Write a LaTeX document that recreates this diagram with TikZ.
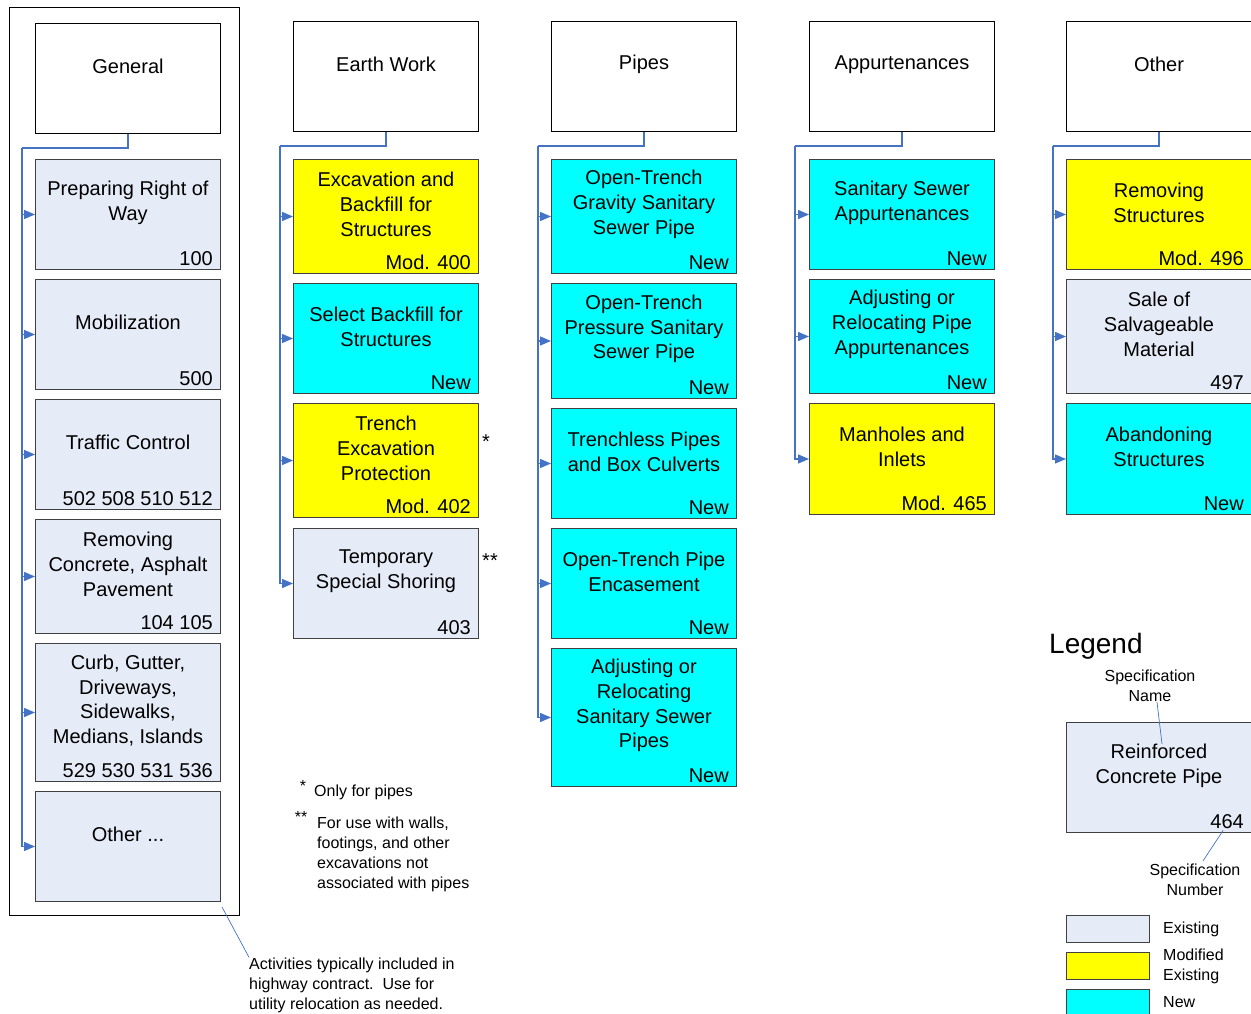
\documentclass[tikz,border=0pt]{standalone}
\usepackage{fontspec}
\setmainfont{Liberation Sans}
\usetikzlibrary{arrows.meta}
\definecolor{existfill}{RGB}{230,236,247}
\definecolor{modfill}{RGB}{255,255,0}
\definecolor{newfill}{RGB}{0,255,255}
\definecolor{linkblue}{RGB}{68,114,196}
\definecolor{boxedge}{RGB}{64,64,64}

\begin{document}
\begin{tikzpicture}[x=1pt,y=-1pt,
  spec/.style={draw=boxedge,line width=1pt,anchor=north west,minimum width=185pt,inner sep=0pt},
  head/.style={spec,draw=black,fill=white,minimum height=110pt},
  exist/.style={spec,fill=existfill},
  modif/.style={spec,fill=modfill},
  newsp/.style={spec,fill=newfill},
  spectext/.style={align=center,font=\fontsize{20}{24.8}\selectfont,inner sep=0pt},
  num/.style={anchor=base east,font=\fontsize{20}{24}\selectfont,inner sep=0pt},
  note/.style={align=left,font=\fontsize{16}{20}\selectfont,inner sep=0pt},
  link/.style={draw=linkblue,line width=1.4pt},
  feed/.style={link,-{Triangle[length=11pt,width=9pt]}},
  lead/.style={draw=linkblue,line width=0.7pt}]
\useasboundingbox (0,0) rectangle (1251,1014);

% general (frame round the highway items)
\draw[line width=1pt] (9.5,7.5) rectangle (239.5,915.5);
\node[head] (hgen) at (35,23) {};
\node[spectext] (hgen-t) at ([yshift=12pt]hgen.center) {General};
\node[exist,minimum height=110pt] (prw) at (35,159) {};
\node[spectext] (prw-t) at ([yshift=12pt]prw.center) {Preparing Right of\\Way};
\node[num] (prw-n) at ([xshift=-8pt,yshift=5pt]prw.south east) {100};
\node[exist,minimum height=110pt] (mob) at (35,279) {};
\node[spectext] (mob-t) at ([yshift=12pt]mob.center) {Mobilization};
\node[num] (mob-n) at ([xshift=-8pt,yshift=5pt]mob.south east) {500};
\node[exist,minimum height=110pt] (trc) at (35,399) {};
\node[spectext] (trc-t) at ([yshift=12pt]trc.center) {Traffic Control};
\node[num] (trc-n) at ([xshift=-8pt,yshift=5pt]trc.south east) {502 508 510 512};
\node[exist,minimum height=114pt] (rcp) at (35,519) {};
\node[spectext] (rcp-t) at ([yshift=12pt]rcp.center) {Removing\\Concrete, Asphalt\\Pavement};
\node[num] (rcp-n) at ([xshift=-8pt,yshift=5pt]rcp.south east) {104 105};
\node[exist,minimum height=138pt] (cgd) at (35,643) {};
\node[spectext] (cgd-t) at ([yshift=12pt]cgd.center) {Curb, Gutter,\\Driveways,\\Sidewalks,\\Medians, Islands};
\node[num] (cgd-n) at ([xshift=-8pt,yshift=5pt]cgd.south east) {529 530 531 536};
\node[exist,minimum height=110pt] (goth) at (35,791) {};
\node[spectext] (goth-t) at ([yshift=12pt]goth.center) {Other ...};
\coordinate (tgen) at (22,148);
\draw[link] (hgen.south) |- (tgen);
\draw[feed] (tgen) |- (prw.west);
\draw[feed] (tgen) |- (mob.west);
\draw[feed] (tgen) |- (trc.west);
\draw[feed] (tgen) |- (rcp.west);
\draw[feed] (tgen) |- (cgd.west);
\draw[feed] (tgen) |- (goth.west);

% earth work
\node[head] (hear) at (293,21) {};
\node[spectext] (hear-t) at ([yshift=12pt]hear.center) {Earth Work};
\node[modif,minimum height=114pt] (exb) at (293,159) {};
\node[spectext] (exb-t) at ([yshift=12pt]exb.center) {Excavation and\\Backfill for\\Structures};
\node[num] (exb-n) at ([xshift=-8pt,yshift=5pt]exb.south east) {Mod. 400};
\node[newsp,minimum height=110pt] (sbf) at (293,283) {};
\node[spectext] (sbf-t) at ([yshift=12pt]sbf.center) {Select Backfill for\\Structures};
\node[num] (sbf-n) at ([xshift=-8pt,yshift=5pt]sbf.south east) {New};
\node[modif,minimum height=114pt] (tep) at (293,403) {};
\node[spectext] (tep-t) at ([yshift=12pt]tep.center) {Trench\\Excavation\\Protection};
\node[num] (tep-n) at ([xshift=-8pt,yshift=5pt]tep.south east) {Mod. 402};
\node[exist,minimum height=110pt] (tss) at (293,528) {};
\node[spectext] (tss-t) at ([yshift=12pt]tss.center) {Temporary\\Special Shoring};
\node[num] (tss-n) at ([xshift=-8pt,yshift=5pt]tss.south east) {403};
\node[font=\fontsize{20}{24}\selectfont,inner sep=0pt] (tep-s) at (486,442) {*};
\node[font=\fontsize{20}{24}\selectfont,inner sep=0pt] (tss-s) at (490,561) {**};
\coordinate (tear) at (280,146);
\draw[link] (hear.south) |- (tear);
\draw[feed] (tear) |- (exb.west);
\draw[feed] (tear) |- (sbf.west);
\draw[feed] (tear) |- (tep.west);
\draw[feed] (tear) |- (tss.west);

% pipes
\node[head] (hpip) at (551,21) {};
\node[spectext] (hpip-t) at ([yshift=12pt]hpip.center) {Pipes};
\node[newsp,minimum height=114pt] (otg) at (551,159) {};
\node[spectext] (otg-t) at ([yshift=12pt]otg.center) {Open-Trench\\Gravity Sanitary\\Sewer Pipe};
\node[num] (otg-n) at ([xshift=-8pt,yshift=5pt]otg.south east) {New};
\node[newsp,minimum height=115pt] (otp) at (551,283) {};
\node[spectext] (otp-t) at ([yshift=12pt]otp.center) {Open-Trench\\Pressure Sanitary\\Sewer Pipe};
\node[num] (otp-n) at ([xshift=-8pt,yshift=5pt]otp.south east) {New};
\node[newsp,minimum height=110pt] (tpb) at (551,408) {};
\node[spectext] (tpb-t) at ([yshift=12pt]tpb.center) {Trenchless Pipes\\and Box Culverts};
\node[num] (tpb-n) at ([xshift=-8pt,yshift=5pt]tpb.south east) {New};
\node[newsp,minimum height=110pt] (ope) at (551,528) {};
\node[spectext] (ope-t) at ([yshift=12pt]ope.center) {Open-Trench Pipe\\Encasement};
\node[num] (ope-n) at ([xshift=-8pt,yshift=5pt]ope.south east) {New};
\node[newsp,minimum height=138pt] (ars) at (551,648) {};
\node[spectext] (ars-t) at ([yshift=12pt]ars.center) {Adjusting or\\Relocating\\Sanitary Sewer\\Pipes};
\node[num] (ars-n) at ([xshift=-8pt,yshift=5pt]ars.south east) {New};
\coordinate (tpip) at (538,146);
\draw[link] (hpip.south) |- (tpip);
\draw[feed] (tpip) |- (otg.west);
\draw[feed] (tpip) |- (otp.west);
\draw[feed] (tpip) |- (tpb.west);
\draw[feed] (tpip) |- (ope.west);
\draw[feed] (tpip) |- (ars.west);

% appurtenances
\node[head] (happ) at (809,21) {};
\node[spectext] (happ-t) at ([yshift=12pt]happ.center) {Appurtenances};
\node[newsp,minimum height=110pt] (ssa) at (809,159) {};
\node[spectext] (ssa-t) at ([yshift=12pt]ssa.center) {Sanitary Sewer\\Appurtenances};
\node[num] (ssa-n) at ([xshift=-8pt,yshift=5pt]ssa.south east) {New};
\node[newsp,minimum height=114pt] (arp) at (809,279) {};
\node[spectext] (arp-t) at ([yshift=12pt]arp.center) {Adjusting or\\Relocating Pipe\\Appurtenances};
\node[num] (arp-n) at ([xshift=-8pt,yshift=5pt]arp.south east) {New};
\node[modif,minimum height=111pt] (mhi) at (809,403) {};
\node[spectext] (mhi-t) at ([yshift=12pt]mhi.center) {Manholes and\\Inlets};
\node[num] (mhi-n) at ([xshift=-8pt,yshift=5pt]mhi.south east) {Mod. 465};
\coordinate (tapp) at (795,146);
\draw[link] (happ.south) |- (tapp);
\draw[feed] (tapp) |- (ssa.west);
\draw[feed] (tapp) |- (arp.west);
\draw[feed] (tapp) |- (mhi.west);

% other
\node[head] (hoth) at (1066,21) {};
\node[spectext] (hoth-t) at ([yshift=12pt]hoth.center) {Other};
\node[modif,minimum height=110pt] (rms) at (1066,159) {};
\node[spectext] (rms-t) at ([yshift=12pt]rms.center) {Removing\\Structures};
\node[num] (rms-n) at ([xshift=-8pt,yshift=5pt]rms.south east) {Mod. 496};
\node[exist,minimum height=114pt] (ssm) at (1066,279) {};
\node[spectext] (ssm-t) at ([yshift=12pt]ssm.center) {Sale of\\Salvageable\\Material};
\node[num] (ssm-n) at ([xshift=-8pt,yshift=5pt]ssm.south east) {497};
\node[newsp,minimum height=111pt] (abs) at (1066,403) {};
\node[spectext] (abs-t) at ([yshift=12pt]abs.center) {Abandoning\\Structures};
\node[num] (abs-n) at ([xshift=-8pt,yshift=5pt]abs.south east) {New};
\coordinate (toth) at (1053,146);
\draw[link] (hoth.south) |- (toth);
\draw[feed] (toth) |- (rms.west);
\draw[feed] (toth) |- (ssm.west);
\draw[feed] (toth) |- (abs.west);

% footnotes
\node[font=\fontsize{16}{20}\selectfont,inner sep=0pt] (fn1-s) at (303,786) {*};
\node[note,anchor=west] (fn1) at (314,792) {Only for pipes};
\node[font=\fontsize{16}{20}\selectfont,inner sep=0pt] (fn2-s) at (301,817) {**};
\node[note,anchor=west] (fn2) at (317,854) {For use with walls,\\footings, and other\\excavations not\\associated with pipes};
\node[note,anchor=west] (actnote) at (249,985) {Activities typically included in\\highway contract.\ \ Use for\\utility relocation as needed.};
\coordinate (actpt) at (222,907);
\draw[lead] (actpt) -- (actnote.north west);

% legend
\node[anchor=west,font=\fontsize{28}{32}\selectfont,inner sep=0pt] (lgd-h) at (1049,646) {Legend};
\node[note,align=center] (lgd-sn) at (1150,686) {Specification\\Name};
\node[exist,minimum height=110pt] (lgd) at (1066,722) {};
\node[spectext] (lgd-t) at ([yshift=12pt]lgd.center) {Reinforced\\Concrete Pipe};
\node[num] (lgd-n) at ([xshift=-8pt,yshift=5pt]lgd.south east) {464};
\node[note,align=center] (lgd-sk) at (1195,880) {Specification\\Number};
\coordinate (lgd-tp) at (1162,744);
\draw[lead] ([xshift=7pt]lgd-sn.south) -- (lgd-tp);
\draw[lead] ([xshift=-4pt,yshift=-2pt]lgd-n.south) -- ([xshift=8pt,yshift=3pt]lgd-sk.north);
\node[exist,minimum width=83pt,minimum height=27pt] (key-e) at (1066,915) {};
\node[note,anchor=west] (key-e-t) at (1163,929) {Existing};
\node[modif,minimum width=83pt,minimum height=27pt] (key-m) at (1066,952) {};
\node[note,anchor=west] (key-m-t) at (1163,966) {Modified\\Existing};
\node[newsp,minimum width=83pt,minimum height=27pt] (key-n) at (1066,989) {};
\node[note,anchor=west] (key-n-t) at (1163,1002) {New};
\end{tikzpicture}
\end{document}
